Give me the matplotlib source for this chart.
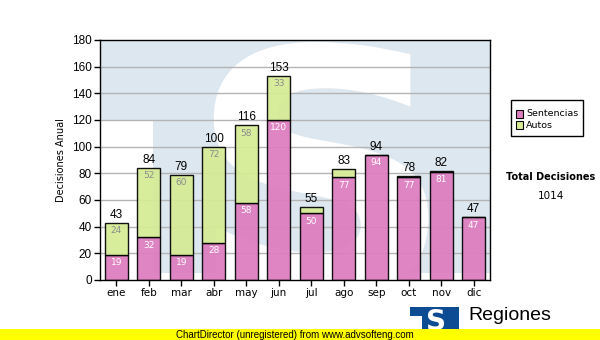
import numpy as np
import matplotlib.pyplot as plt
from matplotlib.patches import Rectangle, PathPatch
from matplotlib.textpath import TextPath
from matplotlib.font_manager import FontProperties
from matplotlib.transforms import Affine2D

# monthly decisions
months = ['ene', 'feb', 'mar', 'abr', 'may', 'jun', 'jul', 'ago', 'sep', 'oct', 'nov', 'dic']
sentencias = [19, 32, 19, 28, 58, 120, 50, 77, 94, 77, 81, 47]
autos = [24, 52, 60, 72, 58, 33, 5, 6, 0, 1, 1, 0]
series_names = ['Sentencias', 'Autos']

W, H = 600, 340
pink = '#de7cbf'
green = '#d5ec95'
bg_blue = '#dde7f0'
logo_blue = '#0d4c92'

def fx(px):
    return px / W

def fy(py):
    return 1 - py / H

totals = np.array(sentencias) + np.array(autos)
x = np.arange(len(months))

fig = plt.figure(figsize=(6, 3.4), dpi=100)
ax = fig.add_axes([fx(100), fy(280), fx(390), 240 / H])
ax.set_xlim(-0.5, 11.5)
ax.set_ylim(0, 180)
ax.set_facecolor('white')

# watermark logo behind the bars
ax.add_patch(Rectangle((-0.5, 120), 12, 60, color=bg_blue, lw=0, zorder=0))
ax.add_patch(Rectangle((1.13, 5), 10.37, 115, color=bg_blue, lw=0, zorder=0))
tp = TextPath((0, 0), 'S', prop=FontProperties(family='DejaVu Sans', weight='bold'))
ext = tp.get_extents()
sx = (9.6 - 3.0) / ext.width
sy = (178.5 - (-14)) / ext.height
tr = Affine2D().translate(-ext.x0, -ext.y0).scale(sx, sy).translate(3.0, -14)
ax.add_patch(PathPatch(tr.transform_path(tp), color='white', lw=0, zorder=0.5))

for yv in range(20, 180, 20):
    ax.axhline(yv, color='#b4b4b4', lw=1, zorder=1)

bw = 0.71
ax.bar(x, sentencias, bw, color=pink, alpha=0.93, edgecolor='black', lw=1, zorder=2)
ax.bar(x, autos, bw, bottom=sentencias, color=green, alpha=0.93, edgecolor='black', lw=1, zorder=2)

for i in range(len(months)):
    ax.text(x[i], totals[i] + 1.5, str(totals[i]), ha='center', va='bottom',
            fontsize=8.5, family='Liberation Sans', zorder=3)
    ax.text(x[i], sentencias[i] - 2.5, str(sentencias[i]), ha='center', va='top',
            fontsize=6.5, color='white', zorder=3)
    if autos[i] >= 8:
        ax.text(x[i], totals[i] - 2.5, str(autos[i]), ha='center', va='top',
                fontsize=6.5, color='#8c8c8c', zorder=3)

ax.set_xticks(x)
ax.set_xticklabels(months, fontsize=7.5)
ax.set_yticks(range(0, 181, 20))
ax.set_yticklabels([str(v) for v in range(0, 181, 20)], fontsize=8.5, family='Liberation Sans')
ax.tick_params(length=4, width=1, pad=2)
ax.set_ylabel('Decisiones Anual', fontsize=7, labelpad=4)
for s in ax.spines.values():
    s.set_linewidth(1)
    s.set_zorder(4)

# legend
fig.patches.append(Rectangle((fx(511), fy(136)), fx(72), 36 / H, transform=fig.transFigure,
                             fill=False, ec='black', lw=1))
for k, (name, col) in enumerate(zip(series_names, [pink, green])):
    yy = 114 + k * 11
    fig.patches.append(Rectangle((fx(516), fy(yy + 3.5)), fx(7), 7 / H, transform=fig.transFigure,
                                 fc=col, ec='black', lw=0.8))
    fig.text(fx(526), fy(yy), name, fontsize=6.8, va='center', ha='left')

fig.text(fx(551), fy(177), 'Total Decisiones', fontsize=7, weight='bold', ha='center', va='center')
fig.text(fx(551), fy(196), str(totals.sum()), fontsize=7.5, ha='center', va='center')

# logo at the bottom
fig.patches.append(Rectangle((fx(410), fy(335)), fx(49), 28 / H, transform=fig.transFigure,
                             color=logo_blue, lw=0))
fig.patches.append(Rectangle((fx(409), fy(335)), fx(13), 19 / H, transform=fig.transFigure,
                             color='white', lw=0))
fig.text(fx(436), fy(322), 'S', fontsize=20, weight='bold', color='white', ha='center',
         va='center', family='DejaVu Sans')
fig.text(fx(468), fy(315), 'Regiones', fontsize=14, family='Liberation Sans', ha='left', va='center')

# footer strip
fig.patches.append(Rectangle((0, 0), 1, 11 / H, transform=fig.transFigure, color='#ffff00', lw=0,
                             zorder=5))
fig.text(fx(295), fy(334.5), 'ChartDirector (unregistered) from www.advsofteng.com', fontsize=7,
         family='Liberation Sans', ha='center', va='center', zorder=6)

fig.savefig('out.png', dpi=100)
